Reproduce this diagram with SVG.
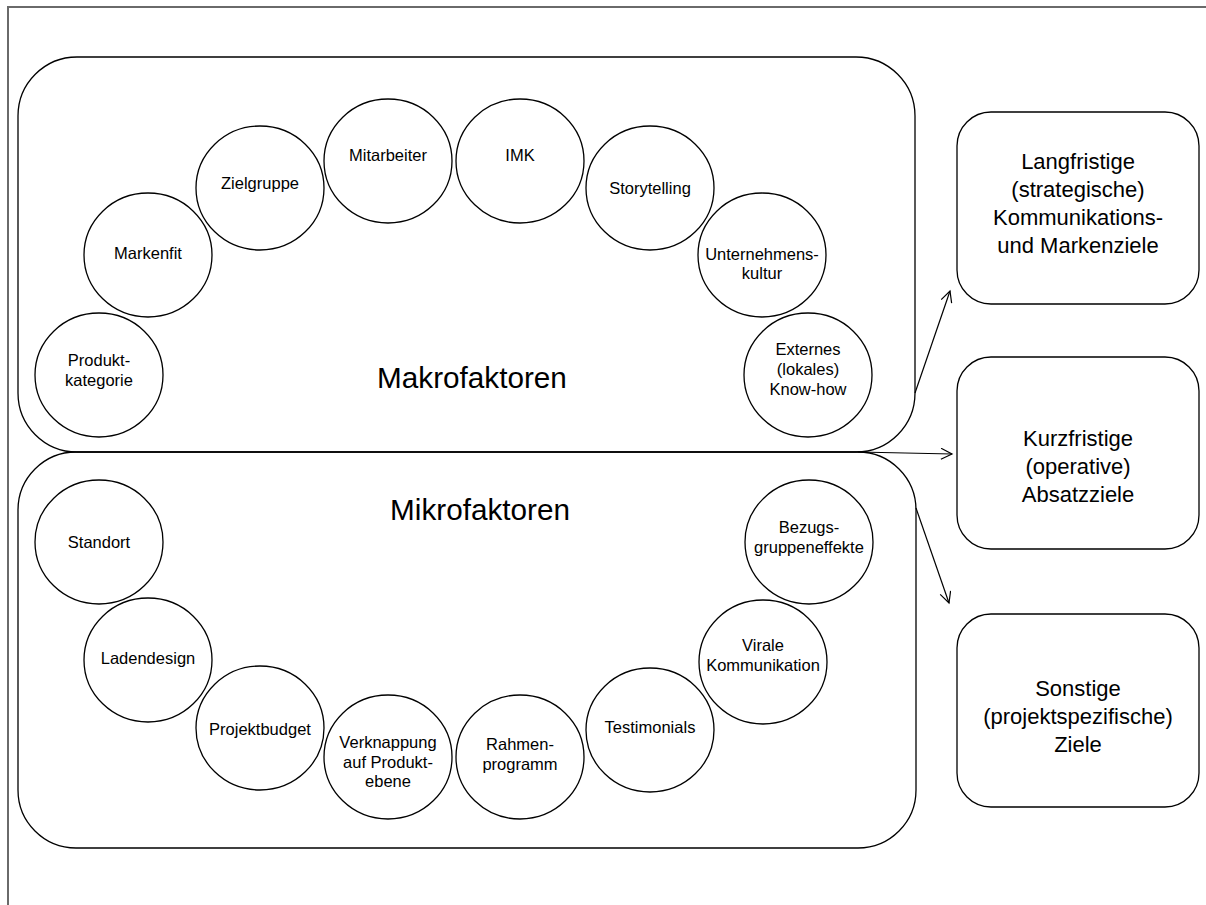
<svg xmlns="http://www.w3.org/2000/svg" width="1206" height="905" viewBox="0 0 1206 905">
<defs>
<style>
.c{fill:#fff;stroke:#000;stroke-width:1.3}
.box{fill:none;stroke:#000;stroke-width:1.3}
.t{font-family:"Liberation Sans",Arial,sans-serif;font-size:16.5px;fill:#000;text-anchor:middle}
.big{font-family:"Liberation Sans",Arial,sans-serif;font-size:29.7px;fill:#000;text-anchor:middle}
.g{font-family:"Liberation Sans",Arial,sans-serif;font-size:22px;fill:#000;text-anchor:middle}
.a{fill:none;stroke:#000;stroke-width:1.2}
</style>
<marker id="arr" markerWidth="14" markerHeight="14" refX="12" refY="6" orient="auto" markerUnits="userSpaceOnUse">
<path d="M1,0.5 L12,6 L1,11.5" fill="none" stroke="#000" stroke-width="1.2"/>
</marker>
</defs>
<rect x="0" y="0" width="1206" height="905" fill="#fff"/>
<path d="M8,905 L8,7 L1206,7" fill="none" stroke="#6a6a6a" stroke-width="2"/>

<g id="makro">
<rect class="box" x="18" y="57" width="897" height="395" rx="59" ry="59"/>
<text class="big" x="472" y="388">Makrofaktoren</text>
</g>
<g id="mikro">
<rect class="box" x="18" y="452" width="898" height="396" rx="58" ry="58"/>
<text class="big" x="480" y="520">Mikrofaktoren</text>
</g>

<g id="produktkategorie"><ellipse class="c" cx="99" cy="375" rx="64" ry="62"/><text class="t" x="99" y="366">Produkt-</text><text class="t" x="99" y="386">kategorie</text></g>
<g id="markenfit"><ellipse class="c" cx="148" cy="255" rx="64" ry="62"/><text class="t" x="148" y="259">Markenfit</text></g>
<g id="zielgruppe"><ellipse class="c" cx="260" cy="188" rx="64" ry="62"/><text class="t" x="260" y="189">Zielgruppe</text></g>
<g id="mitarbeiter"><ellipse class="c" cx="388" cy="161" rx="64" ry="62"/><text class="t" x="388" y="161">Mitarbeiter</text></g>
<g id="imk"><ellipse class="c" cx="520" cy="161" rx="64" ry="62"/><text class="t" x="520" y="161">IMK</text></g>
<g id="storytelling"><ellipse class="c" cx="650" cy="188" rx="64" ry="62"/><text class="t" x="650" y="194">Storytelling</text></g>
<g id="unternehmenskultur"><ellipse class="c" cx="762" cy="255" rx="64" ry="62"/><text class="t" x="762" y="260">Unternehmens-</text><text class="t" x="762" y="279">kultur</text></g>
<g id="externes"><ellipse class="c" cx="808" cy="375" rx="64" ry="62"/><text class="t" x="808" y="355">Externes</text><text class="t" x="808" y="375">(lokales)</text><text class="t" x="808" y="395">Know-how</text></g>

<g id="standort"><ellipse class="c" cx="99" cy="542" rx="64" ry="62"/><text class="t" x="99" y="548">Standort</text></g>
<g id="ladendesign"><ellipse class="c" cx="148" cy="660" rx="64" ry="62"/><text class="t" x="148" y="664">Ladendesign</text></g>
<g id="projektbudget"><ellipse class="c" cx="260" cy="728" rx="64" ry="62"/><text class="t" x="260" y="735">Projektbudget</text></g>
<g id="verknappung"><ellipse class="c" cx="388" cy="757" rx="64" ry="62"/><text class="t" x="388" y="748">Verknappung</text><text class="t" x="388" y="768">auf Produkt-</text><text class="t" x="388" y="787">ebene</text></g>
<g id="rahmenprogramm"><ellipse class="c" cx="520" cy="757" rx="64" ry="62"/><text class="t" x="520" y="750">Rahmen-</text><text class="t" x="520" y="770">programm</text></g>
<g id="testimonials"><ellipse class="c" cx="650" cy="730" rx="64" ry="62"/><text class="t" x="650" y="733">Testimonials</text></g>
<g id="virale"><ellipse class="c" cx="763" cy="662" rx="64" ry="62"/><text class="t" x="763" y="651">Virale</text><text class="t" x="763" y="671">Kommunikation</text></g>
<g id="bezugsgruppen"><ellipse class="c" cx="809" cy="542" rx="64" ry="62"/><text class="t" x="809" y="533">Bezugs-</text><text class="t" x="809" y="553">gruppeneffekte</text></g>

<g id="langfristig"><rect class="box" x="957" y="112" width="242" height="192" rx="34" ry="34"/><text class="g" x="1078" y="169">Langfristige</text><text class="g" x="1078" y="197">(strategische)</text><text class="g" x="1078" y="225">Kommunikations-</text><text class="g" x="1078" y="253">und Markenziele</text></g>
<g id="kurzfristig"><rect class="box" x="957" y="357" width="242" height="192" rx="34" ry="34"/><text class="g" x="1078" y="446">Kurzfristige</text><text class="g" x="1078" y="474">(operative)</text><text class="g" x="1078" y="502">Absatzziele</text></g>
<g id="sonstige"><rect class="box" x="957" y="614" width="242" height="193" rx="34" ry="34"/><text class="g" x="1078" y="696">Sonstige</text><text class="g" x="1078" y="724">(projektspezifische)</text><text class="g" x="1078" y="752">Ziele</text></g>

<g id="connectors">
<line class="a" x1="915" y1="393" x2="950" y2="291" marker-end="url(#arr)"/>
<line class="a" x1="858" y1="452" x2="952" y2="454" marker-end="url(#arr)"/>
<line class="a" x1="916" y1="508" x2="949" y2="603" marker-end="url(#arr)"/>
</g>
</svg>
